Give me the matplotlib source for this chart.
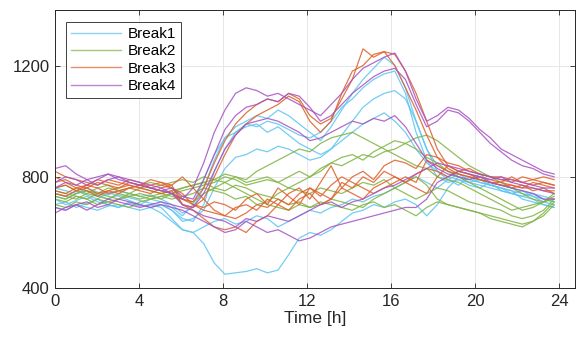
import numpy as np
import matplotlib.pyplot as plt
from matplotlib.lines import Line2D

# half-hourly load profiles, one list per day, grouped by break
hours = np.linspace(0, 23.75, 48)

break1 = [
    [740, 730, 750, 735, 720, 745, 730, 715, 700, 720, 710, 690,
     660, 700, 790, 880, 940, 980, 1000, 1020, 1010, 1040, 1020, 990,
     960, 930, 980, 1040, 1100, 1150, 1190, 1230, 1200, 1120, 1000, 900,
     840, 820, 800, 790, 810, 780, 770, 760, 750, 740, 730, 720],
    [700, 710, 690, 705, 720, 700, 690, 710, 700, 690, 700, 680,
     650, 640, 700, 820, 900, 960, 990, 980, 1000, 990, 970, 950,
     940, 960, 1000, 1050, 1080, 1120, 1150, 1170, 1180, 1100, 960, 860,
     800, 780, 790, 770, 760, 780, 750, 740, 730, 720, 700, 690],
    [720, 700, 715, 730, 710, 700, 690, 705, 695, 700, 690, 650,
     610, 600, 560, 490, 450, 455, 460, 470, 455, 465, 520, 580,
     600, 590, 610, 640, 670, 680, 700, 690, 710, 720, 700, 660,
     700, 760, 800, 780, 790, 770, 760, 750, 720, 710, 700, 690],
    [760, 750, 740, 760, 745, 735, 750, 740, 730, 735, 720, 700,
     670, 690, 760, 860, 940, 960, 980, 990, 960, 980, 950, 920,
     900, 880, 900, 930, 960, 990, 1010, 1030, 1000, 960, 900, 850,
     820, 800, 790, 780, 770, 760, 750, 740, 730, 740, 720, 710],
    [690, 680, 700, 690, 680, 695, 700, 690, 680, 690, 670, 640,
     610, 600, 620, 640, 650, 630, 640, 660, 650, 620, 640, 660,
     680, 670, 690, 700, 720, 710, 730, 740, 760, 780, 800, 780,
     760, 790, 810, 790, 780, 770, 760, 750, 740, 730, 720, 710],
    [730, 720, 740, 750, 735, 720, 735, 725, 715, 705, 700, 680,
     640, 650, 680, 760, 830, 870, 880, 900, 890, 910, 900, 880,
     860, 870, 900, 950, 1000, 1050, 1080, 1100, 1110, 1080, 1000, 900,
     820, 790, 770, 800, 780, 770, 760, 740, 750, 730, 710, 700],
]

break2 = [
    [740, 730, 720, 740, 730, 720, 740, 730, 720, 730, 740, 750,
     760, 770, 780, 790, 780, 800, 790, 820, 840, 860, 880, 900,
     890, 920, 940, 950, 960, 940, 920, 900, 880, 860, 840, 830,
     800, 790, 780, 760, 740, 720, 700, 680, 690, 700, 710, 720],
    [720, 710, 730, 720, 700, 710, 720, 730, 740, 730, 720, 740,
     750, 760, 770, 780, 800, 790, 770, 780, 790, 780, 800, 820,
     800, 830, 850, 840, 860, 880, 870, 890, 900, 920, 940, 950,
     930, 900, 870, 840, 820, 800, 780, 760, 740, 720, 710, 730],
    [700, 690, 710, 700, 720, 710, 700, 690, 710, 720, 730, 740,
     760, 770, 780, 760, 750, 770, 760, 740, 730, 720, 700, 710,
     690, 700, 720, 710, 700, 690, 720, 740, 760, 780, 800, 770,
     720, 700, 690, 680, 670, 660, 650, 640, 630, 640, 660, 700],
    [760, 770, 750, 740, 760, 770, 750, 760, 770, 780, 770, 780,
     790, 780, 800, 790, 810, 800, 780, 790, 800, 780, 760, 750,
     740, 760, 750, 740, 760, 780, 770, 790, 760, 740, 720, 740,
     760, 750, 730, 710, 700, 690, 680, 660, 650, 660, 680, 720],
    [730, 720, 740, 750, 740, 730, 720, 740, 730, 720, 730, 720,
     730, 740, 760, 750, 740, 720, 730, 700, 710, 740, 760, 780,
     800, 820, 850, 870, 880, 860, 890, 910, 930, 920, 900, 870,
     850, 820, 800, 780, 760, 740, 720, 700, 680, 690, 710, 740],
    [750, 740, 730, 720, 740, 760, 750, 740, 760, 750, 740, 730,
     720, 710, 740, 760, 780, 760, 740, 720, 700, 690, 680, 700,
     690, 710, 700, 690, 680, 700, 710, 690, 700, 680, 660, 690,
     710, 700, 690, 680, 670, 650, 640, 630, 620, 640, 670, 710],
]

break3 = [
    [800, 780, 760, 770, 790, 780, 770, 790, 780, 760, 770, 760,
     720, 710, 760, 850, 930, 990, 1030, 1060, 1080, 1070, 1100, 1080,
     1020, 990, 1010, 1080, 1150, 1260, 1230, 1250, 1240, 1180, 1100, 1000,
     900, 840, 820, 810, 800, 790, 780, 800, 780, 790, 800, 790],
    [760, 770, 750, 760, 740, 750, 760, 770, 760, 750, 740, 750,
     700, 690, 720, 800, 880, 950, 990, 1020, 1040, 1060, 1090, 1070,
     1000, 960, 1000, 1100, 1180, 1200, 1240, 1250, 1200, 1120, 1040, 950,
     870, 830, 810, 800, 790, 780, 780, 770, 760, 760, 750, 750],
    [820, 800, 790, 780, 770, 790, 780, 770, 760, 770, 780, 760,
     740, 700, 680, 670, 660, 690, 700, 680, 720, 700, 740, 760,
     720, 780, 840, 760, 800, 820, 790, 840, 860, 850, 830, 880,
     870, 850, 840, 820, 810, 800, 800, 790, 780, 770, 780, 770],
    [750, 740, 760, 750, 730, 750, 740, 760, 750, 740, 760, 770,
     700, 680, 650, 620, 610, 620, 600, 640, 660, 700, 680, 720,
     740, 700, 720, 760, 740, 720, 760, 780, 800, 780, 810, 830,
     820, 800, 820, 810, 790, 780, 770, 770, 760, 780, 770, 760],
    [740, 730, 750, 770, 760, 740, 750, 760, 770, 760, 750, 740,
     720, 700, 690, 710, 700, 680, 720, 740, 700, 760, 730, 700,
     760, 740, 720, 780, 760, 800, 780, 820, 800, 780, 760, 740,
     800, 840, 820, 830, 810, 800, 790, 780, 800, 790, 780, 770],
    [780, 790, 770, 760, 780, 770, 760, 780, 770, 790, 780, 770,
     800, 760, 720, 680, 660, 650, 670, 700, 690, 720, 700, 740,
     760, 730, 770, 800, 780, 760, 740, 760, 780, 800, 780, 860,
     840, 820, 810, 800, 790, 780, 770, 760, 770, 750, 760, 740],
]

break4 = [
    [830, 840, 810, 790, 770, 790, 800, 780, 770, 760, 750, 740,
     720, 760, 850, 960, 1040, 1100, 1120, 1110, 1090, 1100, 1080, 1060,
     1040, 1020, 1060, 1100, 1150, 1190, 1210, 1230, 1245, 1180, 1080, 1000,
     1020, 1050, 1040, 1010, 970, 940, 900, 880, 860, 840, 820, 810],
    [760, 780, 770, 790, 800, 810, 790, 780, 770, 760, 750, 760,
     730, 720, 790, 880, 970, 1020, 1050, 1060, 1080, 1070, 1100, 1090,
     1050, 1000, 1020, 1060, 1100, 1130, 1160, 1180, 1190, 1150, 1060, 980,
     1000, 1040, 1030, 1000, 960, 920, 890, 860, 840, 830, 810, 800],
    [780, 800, 790, 770, 790, 810, 800, 790, 780, 770, 760, 740,
     700, 690, 740, 820, 900, 950, 990, 1000, 1010, 1000, 980, 960,
     930, 940, 960, 980, 1000, 990, 1010, 1000, 1020, 980, 920, 860,
     830, 810, 800, 790, 800, 780, 770, 760, 750, 740, 720, 720],
    [690, 680, 700, 710, 690, 700, 720, 710, 700, 690, 700, 690,
     680, 660, 640, 620, 600, 610, 640, 620, 600, 610, 590, 570,
     580, 600, 620, 630, 640, 650, 660, 670, 680, 690, 690, 720,
     780, 800, 820, 810, 800, 790, 800, 780, 770, 760, 750, 740],
    [670, 690, 700, 680, 700, 720, 710, 700, 690, 700, 710, 700,
     690, 680, 660, 650, 640, 620, 650, 640, 660, 650, 640, 660,
     680, 700, 710, 690, 710, 720, 740, 760, 770, 790, 810, 830,
     850, 840, 830, 820, 810, 800, 790, 790, 780, 770, 760, 760],
]

labels = ['Break1', 'Break2', 'Break3', 'Break4']
colors = ['#5CC4F0', '#7FB340', '#DE5F28', '#A552C2']

plt.rcParams['font.family'] = ['Liberation Sans', 'DejaVu Sans']

fig = plt.figure(figsize=(5.76, 3.41), dpi=100)
ax = fig.add_axes([0.0955, 0.155, 0.903, 0.816])

for group, col in zip([break1, break2, break3, break4], colors):
    for day in group:
        ax.plot(hours, day, color=col, lw=0.9, alpha=0.85)

ax.set_xlim(0, 24.75)
ax.set_ylim(400, 1400)
ax.set_xticks(np.arange(0, 25, 4))
ax.set_yticks([400, 800, 1200])
ax.grid(True, color='#e3e3e3', lw=0.6)
ax.set_axisbelow(True)
ax.tick_params(direction='in', top=True, right=True, length=3.5,
               width=0.6, color='#262626', labelsize=12,
               labelcolor='#262626', pad=4)
for sp in ax.spines.values():
    sp.set_color('#262626')
    sp.set_linewidth(0.7)
ax.set_xlabel('Time [h]', fontsize=12.5, color='#262626', labelpad=2)

handles = [Line2D([], [], color=c, lw=1.0, alpha=0.7) for c in colors]
leg = ax.legend(handles, labels, loc='upper left',
                bbox_to_anchor=(0.022, 0.955), fontsize=11,
                handlelength=3.3, handletextpad=0.4, labelspacing=0.22,
                borderpad=0.3, borderaxespad=0, fancybox=False,
                framealpha=1, edgecolor='#404040')
leg.get_frame().set_linewidth(0.7)

fig.savefig('out.png', dpi=100)
